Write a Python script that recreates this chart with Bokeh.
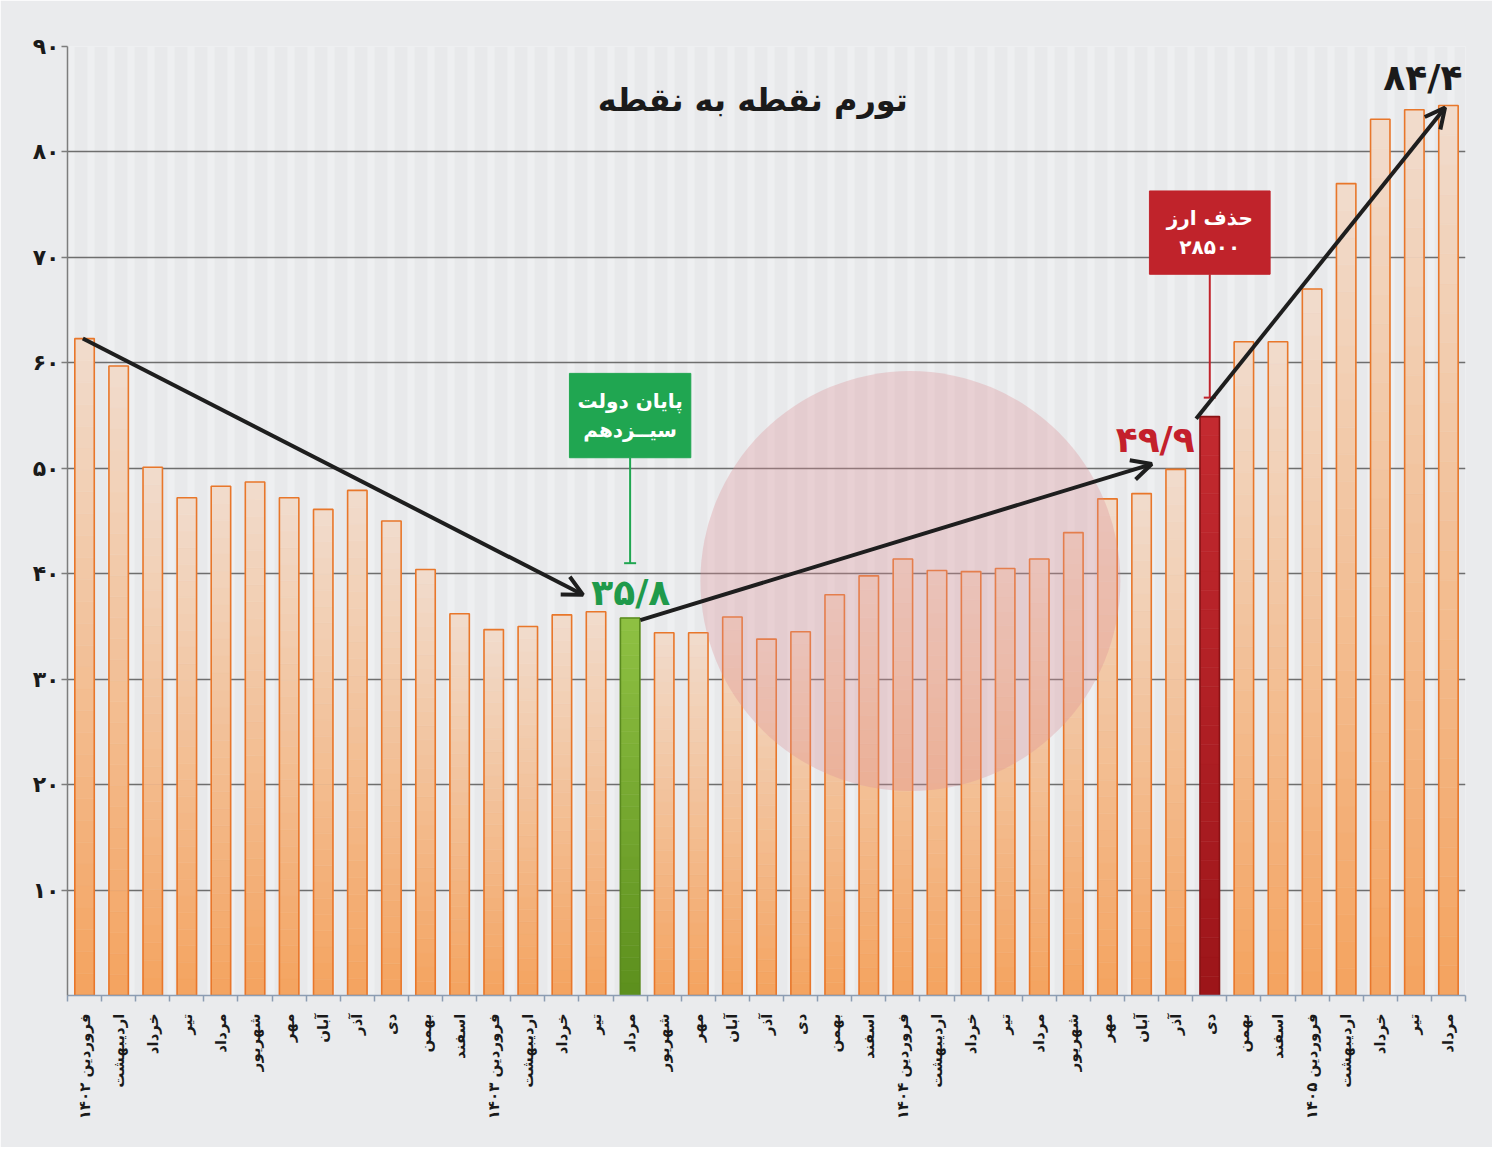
import math
from bokeh.plotting import figure
from bokeh.models import (Range1d, FixedTicker, CustomJSTickFormatter, Arrow, OpenHead, Label,
                          Whisker, TeeHead, ColumnDataSource, BoxAnnotation)
from bokeh.embed import file_html
from bokeh.resources import INLINE

# ---------------- data ----------------
months = [
    "فروردین ۱۴۰۲", "اردیبهشت", "خرداد", "تیر", "مرداد", "شهریور", "مهر", "آبان", "آذر", "دی", "بهمن", "اسفند",
    "فروردین ۱۴۰۳", "اردیبهشت", "خرداد", "تیر", "مرداد", "شهریور", "مهر", "آبان", "آذر", "دی", "بهمن", "اسفند",
    "فروردین ۱۴۰۴", "اردیبهشت", "خرداد", "تیر", "مرداد", "شهریور", "مهر", "آبان", "آذر", "دی", "بهمن", "اسفند",
    "فروردین ۱۴۰۵", "اردیبهشت", "خرداد", "تیر", "مرداد",
]
inflation = [
    62.3, 59.7, 50.1, 47.2, 48.3, 48.7, 47.2, 46.1, 47.9, 45.0, 40.4, 36.2,
    34.7, 35.0, 36.1, 36.4, 35.8, 34.4, 34.4, 35.9, 33.8, 34.5, 38.0, 39.8,
    41.4, 40.3, 40.2, 40.5, 41.4, 43.9, 47.1, 47.6, 49.9, 54.9, 62.0, 62.0,
    67.0, 77.0, 83.1, 84.0, 84.4,
]
y_ticks = [10, 20, 30, 40, 50, 60, 70, 80, 90]
y_tick_labels = ["۱۰", "۲۰", "۳۰", "۴۰", "۵۰", "۶۰", "۷۰", "۸۰", "۹۰"]
title_text = "تورم نقطه به نقطه"
green_idx = 16   # مرداد ۱۴۰۳
red_idx = 33     # دی ۱۴۰۴
green_value_label = "۳۵/۸"
red_value_label = "۴۹/۹"
last_value_label = "۸۴/۴"
green_note = ["پایان دولت", "سیــزدهم"]
red_note = ["حذف ارز", "۲۸۵۰۰"]

FONT = "DejaVu Sans"
N_BARS = len(inflation)
BAR_W = 0.57

p = figure(width=1492, height=1147,
           x_range=Range1d(0, N_BARS), y_range=Range1d(0, 90),
           output_backend="svg", toolbar_location=None,
           min_border_left=67, min_border_right=27, min_border_top=46, min_border_bottom=152)
p.background_fill_color = "#e8e9eb"
p.border_fill_color = "#eaebed"
p.outline_line_color = None

# vertical stripes background (drawn below the grid)
p.add_layout(BoxAnnotation(level="image", fill_alpha=0, line_color=None,
                           hatch_pattern="vertical_line", hatch_color="#f1f2f3",
                           hatch_scale=20, hatch_weight=7, hatch_alpha=0.7))

# grid
p.xgrid.visible = False
p.ygrid.ticker = FixedTicker(ticks=y_ticks)
p.ygrid.grid_line_color = "#6e6e6e"
p.ygrid.grid_line_width = 1.4

# y axis
p.yaxis.ticker = FixedTicker(ticks=y_ticks)
p.yaxis.major_label_overrides = {t: lab for t, lab in zip(y_ticks, y_tick_labels)}
p.yaxis.axis_line_color = "#7d7d7d"
p.yaxis.axis_line_width = 1.5
p.yaxis.major_tick_line_color = "#7d7d7d"
p.yaxis.major_tick_line_width = 1.5
p.yaxis.major_tick_out = 6
p.yaxis.major_tick_in = 0
p.yaxis.minor_tick_line_color = None
p.yaxis.major_label_text_font = FONT
p.yaxis.major_label_text_font_style = "bold"
p.yaxis.major_label_text_font_size = "22px"
p.yaxis.major_label_text_color = "#1a1a1a"
p.yaxis.major_label_standoff = 2

# x axis
centers = [i + 0.5 for i in range(N_BARS)]
p.xaxis.ticker = FixedTicker(ticks=centers, minor_ticks=list(range(N_BARS + 1)))
p.xaxis.formatter = CustomJSTickFormatter(args=dict(labels=months), code="""
    const i = Math.floor(tick);
    return (i >= 0 && i < labels.length) ? labels[i] : '';
""")
p.xaxis.major_label_orientation = math.pi / 2
p.xaxis.major_tick_out = 0
p.xaxis.major_tick_in = 0
p.xaxis.minor_tick_out = 6
p.xaxis.minor_tick_in = 0
p.xaxis.minor_tick_line_color = "#8c9db3"
p.xaxis.minor_tick_line_width = 1.5
p.xaxis.axis_line_color = "#8c9db3"
p.xaxis.axis_line_width = 1.5
p.xaxis.major_label_standoff = 12
p.xaxis.major_label_text_font = FONT
p.xaxis.major_label_text_font_style = "bold"
p.xaxis.major_label_text_font_size = "15px"
p.xaxis.major_label_text_color = "#1a1a1a"


# ---------------- gradient bars ----------------
def hex2rgb(h):
    h = h.lstrip("#")
    return tuple(int(h[i:i + 2], 16) for i in (0, 2, 4))


def mix(c1, c2, t):
    a, b = hex2rgb(c1), hex2rgb(c2)
    return "#%02x%02x%02x" % tuple(int(round(a[k] + (b[k] - a[k]) * t)) for k in range(3))


palettes = []
outline = []
for i in range(N_BARS):
    if i == green_idx:
        palettes.append(("#5c8f1d", "#8fc143"))
        outline.append("#5a8a1e")
    elif i == red_idx:
        palettes.append(("#9c1519", "#c42a30"))
        outline.append("#8a1214")
    else:
        palettes.append(("#f4a35f", "#f1dccd"))
        outline.append("#e8772b")

NS = 30
sx, sb, st, sc = [], [], [], []
for i, v in enumerate(inflation):
    bottom_c, top_c = palettes[i]
    for k in range(NS):
        sx.append(centers[i])
        sb.append(v * k / NS)
        st.append(v * (k + 1) / NS)
        sc.append(mix(bottom_c, top_c, (k + 0.5) / NS))
slices = ColumnDataSource(dict(x=sx, bottom=sb, top=st, color=sc))
p.vbar(x="x", bottom="bottom", top="top", width=BAR_W, source=slices,
       fill_color="color", line_color="color", line_width=0.6)

bars = ColumnDataSource(dict(x=centers, top=inflation, line=outline))
p.vbar(x="x", top="top", width=BAR_W, source=bars, fill_alpha=0,
       line_color="line", line_width=1.6)

# watermark disc
p.scatter(x=[24.72], y=[39.3], size=420, marker="circle", fill_color="#de8f96",
          fill_alpha=0.32, line_color=None)

# ---------------- annotations ----------------
p.add_layout(Label(x=20.1, y=84.9, text=title_text, text_font=FONT, text_font_style="bold",
                   text_font_size="32px", text_color="#1a1a1a",
                   text_align="center", text_baseline="middle"))

ARROW_C = "#1e1e1e"
arrows = [
    ((centers[0] - 0.05, inflation[0]), (green_idx - 0.88, inflation[green_idx] + 2.2)),
    ((green_idx + 0.8, inflation[green_idx] - 0.2), (red_idx - 1.2, inflation[red_idx - 1] + 0.5)),
    ((red_idx + 0.1, inflation[red_idx] - 0.2), (centers[-1] - 0.1, inflation[-1] - 0.2)),
]
for (x0, y0), (x1, y1) in arrows:
    p.add_layout(Arrow(end=OpenHead(size=20, line_width=4, line_color=ARROW_C),
                       x_start=x0, y_start=y0, x_end=x1, y_end=y1,
                       line_width=4, line_color=ARROW_C))

# value labels
p.add_layout(Label(x=green_idx + 0.52, y=38.2, text=green_value_label, text_font=FONT,
                   text_font_style="bold", text_font_size="36px", text_color="#1f9a4b",
                   text_align="center", text_baseline="middle"))
p.add_layout(Label(x=31.9, y=52.7, text=red_value_label, text_font=FONT,
                   text_font_style="bold", text_font_size="36px", text_color="#c4202b",
                   text_align="center", text_baseline="middle"))
p.add_layout(Label(x=39.75, y=87.1, text=last_value_label, text_font=FONT,
                   text_font_style="bold", text_font_size="36px", text_color="#1a1a1a",
                   text_align="center", text_baseline="middle"))

# note boxes
def note_box(cx, y_bottom, y_top, half_w, color, lines, stem_low):
    p.quad(left=[cx - half_w], right=[cx + half_w], bottom=[y_bottom], top=[y_top],
           fill_color=color, line_color=color)
    mid = (y_bottom + y_top) / 2
    gap = (y_top - y_bottom) * 0.17
    for j, t in enumerate(lines):
        p.add_layout(Label(x=cx, y=mid + gap - 2 * gap * j, text=t, text_font=FONT,
                           text_font_style="bold", text_font_size="20px", text_color="white",
                           text_align="center", text_baseline="middle"))
    src = ColumnDataSource(dict(base=[cx], lower=[stem_low], upper=[y_bottom]))
    p.add_layout(Whisker(source=src, base="base", lower="lower", upper="upper",
                         dimension="height", line_color=color, line_width=2,
                         lower_head=TeeHead(size=12, line_color=color, line_width=2),
                         upper_head=None))


note_box(centers[green_idx], 51.0, 59.0, 1.78, "#20a651", green_note, 41.0)
note_box(centers[red_idx], 68.4, 76.3, 1.77, "#c0232b", red_note, 56.7)

open("out.html", "w").write(file_html(p, INLINE))
